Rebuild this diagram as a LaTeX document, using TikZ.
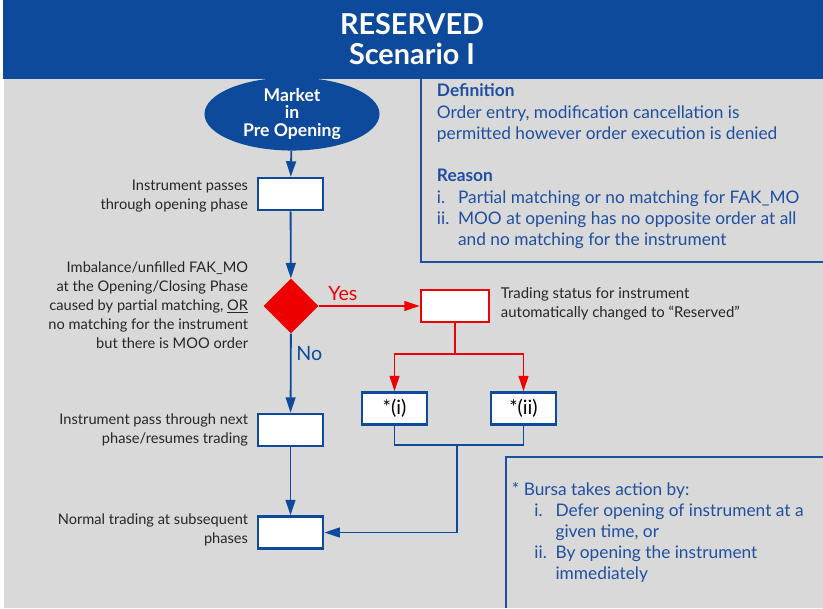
\documentclass[tikz,border=0pt]{standalone}
\usepackage{fontspec}
\setmainfont{Lato}
\usepackage{tikz}
\usetikzlibrary{arrows.meta,shapes.geometric}
\definecolor{bursablue}{HTML}{0D4A9B}
\definecolor{bursatext}{HTML}{1F4FA0}
\definecolor{bursared}{HTML}{EE0000}
\definecolor{panelgray}{HTML}{D9D9D9}

\begin{document}
\begin{tikzpicture}[x=0.025cm, y=-0.025cm,
  stepbox/.style={draw=bursablue, fill=white, line width=1.8pt, minimum width=1.63cm, minimum height=0.8cm, inner sep=0pt, font=\fontsize{14}{16}\selectfont},
  statusbox/.style={stepbox, draw=bursared, minimum width=1.7cm},
  decision/.style={diamond, fill=bursared, minimum width=1.375cm, minimum height=1.375cm, inner sep=0pt},
  startnode/.style={ellipse, fill=bursablue, minimum width=4.375cm, minimum height=1.5cm, inner sep=0pt, text=white, align=center, font=\bfseries\fontsize{12.5}{12.6}\selectfont},
  leftnote/.style={anchor=east, align=right, text=black!85, font=\fontsize{10.4}{13.5}\selectfont},
  rightnote/.style={anchor=west, align=left, text=black!85, font=\fontsize{10.6}{13}\selectfont},
  panelnote/.style={anchor=north west, align=left, text=bursatext, font=\fontsize{12.3}{15.1}\selectfont},
  panel/.style={draw=bursatext, line width=0.8pt},
  line/.style={draw=bursablue, line width=1.3pt},
  flow/.style={line, -{Triangle[length=11pt, width=7pt]}},
  redline/.style={draw=bursared, line width=1.3pt},
  yesflow/.style={redline, -{Triangle[length=11pt, width=7pt]}}]

% page, title bar and grey panel
\useasboundingbox (0,0) rectangle (823,608);
\fill[bursablue] (3,0) rectangle (823,79);
\fill[panelgray] (4,79) rectangle (823,608);
\node[text=white, align=center, font=\bfseries\fontsize{20.5}{21.3}\selectfont] (title) at (412,39) {RESERVED\\Scenario I};

% definition and note panels
\draw[panel] (421,79) -- (421,262) -- (823,262);
\draw[panel] (506,608) -- (506,457) -- (823,457);
\node[panelnote] (definition) at (432,79) {\textbf{Definition}\\
  Order entry, modification cancellation is\\
  permitted however order execution is denied\\[15.1pt]
  \textbf{Reason}\\
  \makebox[15pt][l]{i.}Partial matching or no matching for FAK\_MO\\
  \makebox[15pt][l]{ii.}MOO at opening has no opposite order at all\\
  \hspace*{15pt}and no matching for the instrument};
\node[panelnote] (bursanote) at (507,477) {* Bursa takes action by:\\
  \hspace*{16pt}\makebox[15pt][l]{i.}Defer opening of instrument at a\\
  \hspace*{31pt}given time, or\\
  \hspace*{16pt}\makebox[15pt][l]{ii.}By opening the instrument\\
  \hspace*{31pt}immediately};

% flow
\node[startnode] (market) at (292,114) {Market\\in\\Pre Opening};
\node[stepbox] (opening) at (290.5,194) {};
\node[decision] (imbalance) at (291,306) {};
\node[statusbox] (status) at (455,306) {};
\node[stepbox] (optI) at (394.5,408.5) {*(i)};
\node[stepbox] (optII) at (523.5,408.5) {*(ii)};
\node[stepbox] (next) at (290.5,430) {};
\node[stepbox] (normal) at (290.5,532.5) {};

\node[leftnote] (lblopening) at (253,196) {Instrument passes\\through opening phase};
\node[leftnote] (lblimbalance) at (253,305) {Imbalance/unfilled FAK\_MO\\at the Opening/Closing Phase\\caused by partial matching, \underline{OR}\\no matching for the instrument\\but there is MOO order};
\node[leftnote] (lblnext) at (253,430) {Instrument pass through next\\phase/resumes trading};
\node[leftnote] (lblnormal) at (253,530) {Normal trading at subsequent\\phases};
\node[rightnote] (lblstatus) at (496,304) {Trading status for instrument\\automatically changed to “Reserved”};

\coordinate (split) at (455,354);
\coordinate (merge) at (457,445);

\draw[flow] (market) -- (opening);
\draw[flow] (opening) -- (imbalance);
\draw[flow] (imbalance) -- node[pos=0.25, anchor=west, text=bursablue, font=\fontsize{14}{16}\selectfont] {No} (next);
\draw[flow] (next) -- (normal);
\draw[yesflow] (imbalance) -- node[pos=0.04, anchor=south west, text=bursared, font=\fontsize{14}{16}\selectfont] {Yes} (status);
\draw[redline] (status) -- (split);
\draw[yesflow] (split) -| (optI);
\draw[yesflow] (split) -| (optII);
\draw[line] (optI) |- (merge);
\draw[line] (optII) |- (merge);
\draw[flow] (merge) |- (normal);
\end{tikzpicture}
\end{document}
